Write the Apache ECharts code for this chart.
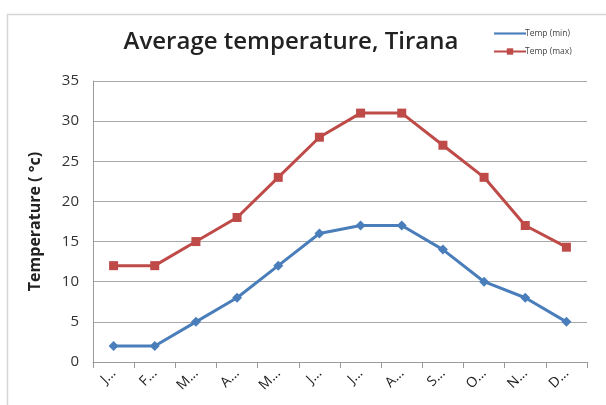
<!DOCTYPE html>
<html><head><meta charset="utf-8">
<script src="https://cdn.jsdelivr.net/npm/echarts@6/dist/echarts.min.js"></script>
<style>html,body{margin:0;padding:0;background:#fff}#c{width:606px;height:405px}</style>
</head><body><div id="c"></div>
<script>
var months = ['Jan','Feb','Mar','Apr','May','Jun','Jul','Aug','Sep','Oct','Nov','Dec'];
var tickLabels = ['J...','F...','M...','A...','M...','J...','J...','A...','S...','O...','N...','D...'];
var tempMin = [2, 2, 5, 8, 12, 16, 17, 17, 14, 10, 8, 5];
var tempMax = [12, 12, 15, 18, 23, 28, 31, 31, 27, 23, 17, 14.3];
var yTicks = [0, 5, 10, 15, 20, 25, 30, 35];

var chart = echarts.init(document.getElementById('c'), null, {renderer:'canvas'});
var font = '"Open Sans", "Noto Sans", sans-serif';
chart.setOption({
  animation: false,
  backgroundColor: '#fff',
  textStyle: {fontFamily: font},
  graphic: [{
    type: 'rect', left: 5, top: 12, shape: {width: 610, height: 400},
    style: {fill: 'none', stroke: '#d6d6d6', lineWidth: 1.5}
  }],
  title: {
    text: 'Average temperature, Tirana',
    left: 286, top: 25, textAlign: 'center',
    textStyle: {fontFamily: font, fontSize: 24, fontWeight: 600, color: '#222'}
  },
  legend: {
    orient: 'vertical', left: 488, top: 24, itemGap: 9,
    itemWidth: 32, itemHeight: 8,
    textStyle: {fontSize: 8.5, color: '#444', padding: [0,0,0,-6]},
    data: [
      {name: 'Temp (min)', icon: 'path://M0,4h30v2H0z'},
      {name: 'Temp (max)'}
    ]
  },
  grid: {left: 93, right: 19, top: 81, bottom: 43, containLabel: false},
  xAxis: {
    type: 'category', data: months, boundaryGap: true,
    axisLine: {lineStyle: {color: '#9a9a9a', width: 1}},
    axisTick: {show: true, length: 6, lineStyle: {color: '#9a9a9a'}},
    axisLabel: {
      rotate: 45, fontSize: 14, color: '#222', margin: 9,
      formatter: function(v, i){ return tickLabels[i]; }
    }
  },
  yAxis: {
    type: 'value', min: yTicks[0], max: yTicks[yTicks.length-1], interval: 5,
    name: 'Temperature ( °c)', nameLocation: 'middle', nameGap: 50, nameRotate: 90,
    nameTextStyle: {fontSize: 16, fontWeight: 'bold', color: '#222'},
    axisLine: {show: true, lineStyle: {color: '#9a9a9a'}},
    axisTick: {show: false},
    splitLine: {lineStyle: {color: '#a8a8a8', width: 1}},
    axisLabel: {fontSize: 15, color: '#333', margin: 14}
  },
  series: [
    {
      name: 'Temp (min)', type: 'line', data: tempMin,
      symbol: 'diamond', symbolSize: 10,
      lineStyle: {color: '#4a7ebb', width: 3},
      itemStyle: {color: '#4a7ebb'}
    },
    {
      name: 'Temp (max)', type: 'line', data: tempMax,
      symbol: 'rect', symbolSize: 9,
      lineStyle: {color: '#be4b48', width: 3},
      itemStyle: {color: '#be4b48'}
    }
  ]
});
</script></body></html>
